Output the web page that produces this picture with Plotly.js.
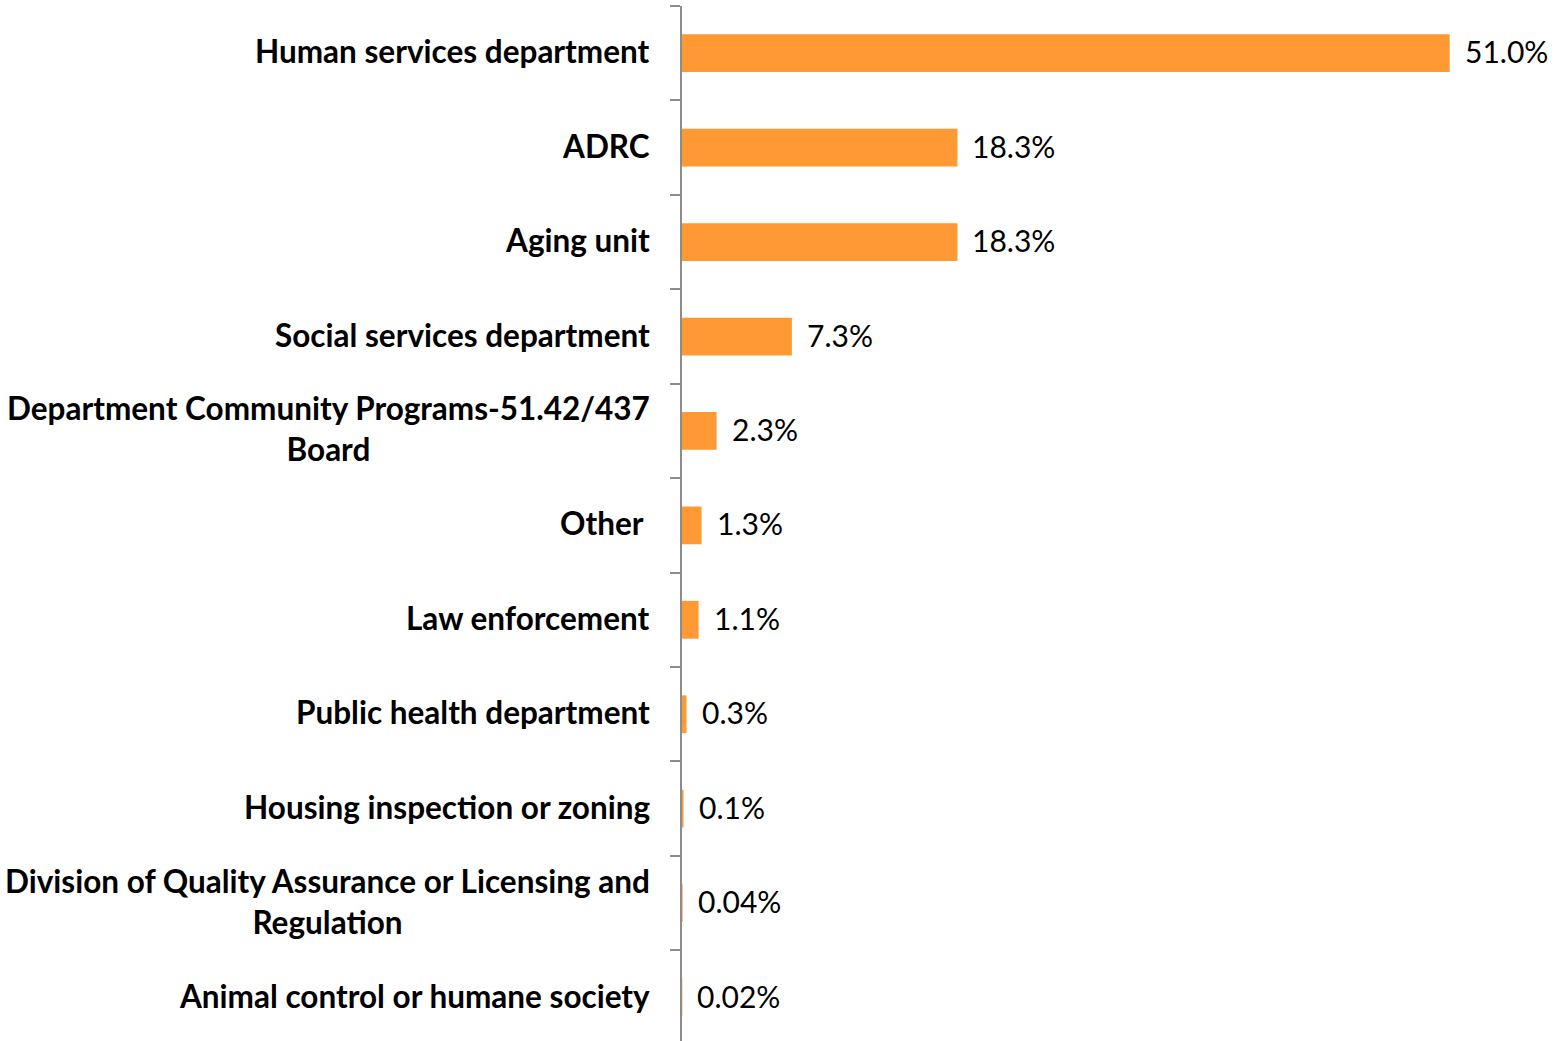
<!DOCTYPE html>
<html>
<head>
<meta charset="utf-8">
<script src="https://cdn.plot.ly/plotly-3.0.1.min.js"></script>
<style>html,body{margin:0;padding:0;background:#fff;}#chart{width:1558px;height:1041px;}</style>
</head>
<body>
<div id="chart"></div>
<script>
const categories = [
  "Human services department",
  "ADRC",
  "Aging unit",
  "Social services department",
  "Department Community Programs-51.42/437<br>Board",
  "Other ",
  "Law enforcement",
  "Public health department",
  "Housing inspection or zoning",
  "Division of Quality Assurance or Licensing and<br>Regulation",
  "Animal control or humane society"
];
const values = [51.0, 18.3, 18.3, 7.3, 2.3, 1.3, 1.1, 0.3, 0.1, 0.04, 0.02];
const valueLabels = ["51.0%", "18.3%", "18.3%", "7.3%", "2.3%", "1.3%", "1.1%", "0.3%", "0.1%", "0.04%", "0.02%"];

const barColor = "#FF9933";
const axisColor = "#8C8C8C";
const fontFam = "Lato, 'Open Sans', sans-serif";

const trace = {
  type: "bar",
  orientation: "h",
  x: values,
  y: categories,
  width: 0.4,
  marker: {color: barColor},
  hoverinfo: "x+y"
};

const annotations = [];
categories.forEach((c, i) => {
  annotations.push({
    xref: "paper", yref: "y", x: 0, y: c,
    xanchor: "right", yanchor: "middle", xshift: -30, yshift: 2,
    align: "center", showarrow: false,
    text: "<b>" + c.replace(/ $/, "\u00a0") + "</b>",
    font: {family: fontFam, size: 31.5, color: "#000"}
  });
  annotations.push({
    xref: "x", yref: "y", x: values[i], y: c,
    xanchor: "left", yanchor: "middle", xshift: 13, yshift: 2,
    showarrow: false,
    text: valueLabels[i],
    font: {family: fontFam, size: 30, color: "#000"}
  });
});

const layout = {
  width: 1558, height: 1041,
  margin: {l: 682, r: 12, t: 6, b: 0, pad: 0},
  paper_bgcolor: "#fff", plot_bgcolor: "#fff",
  showlegend: false,
  xaxis: {range: [0, 57.4], showgrid: false, zeroline: false, showline: false, showticklabels: false, ticks: ""},
  yaxis: {
    type: "category",
    range: [10.46, -0.5],
    showgrid: false, zeroline: false,
    showline: true, linecolor: axisColor, linewidth: 2,
    ticks: "outside", ticklen: 10, tickwidth: 2, tickcolor: axisColor,
    tickson: "boundaries",
    showticklabels: false
  },
  annotations: annotations
};

Plotly.newPlot("chart", [trace], layout, {displayModeBar: false, staticPlot: true});
</script>
</body>
</html>
